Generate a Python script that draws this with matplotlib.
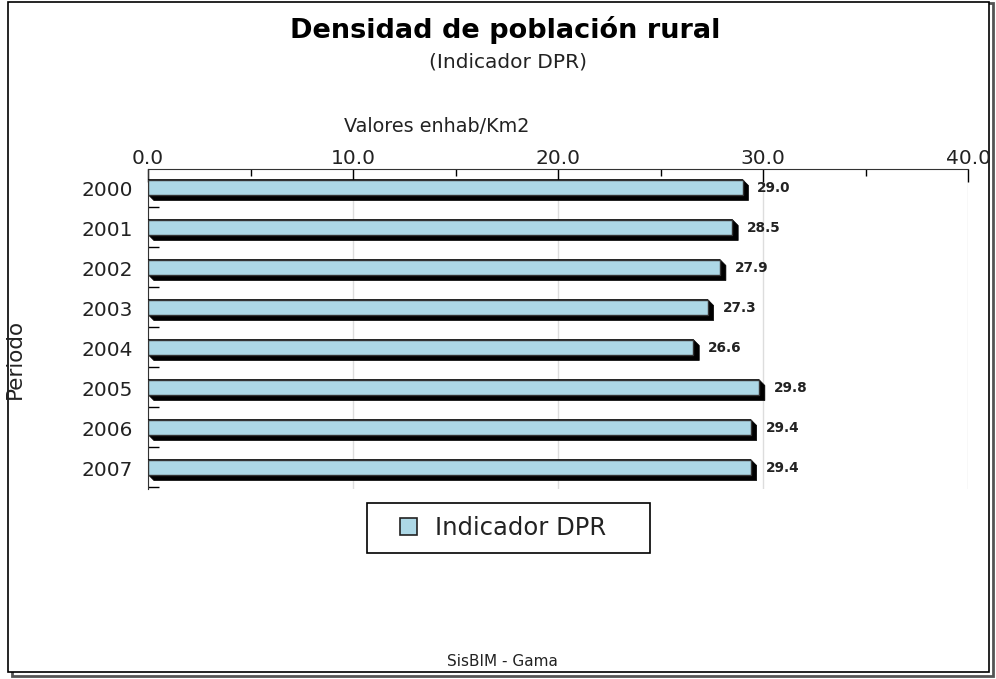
import matplotlib
matplotlib.use("Agg")
import matplotlib.pyplot as plt
from matplotlib.patches import Polygon, Rectangle, Patch
from matplotlib.ticker import MultipleLocator, FixedLocator

# ---------- data ----------
years = ["2000", "2001", "2002", "2003", "2004", "2005", "2006", "2007"]
values = [29.0, 28.5, 27.9, 27.3, 26.6, 29.8, 29.4, 29.4]
series_name = "Indicador DPR"

BAR_COLOR = "#add8e6"
TEXT = "#222222"

W, H = 996, 679
fig = plt.figure(figsize=(W / 100, H / 100), dpi=100)
plt.rcParams["font.family"] = ["DejaVu Sans"]


def fx(px):
    return px / W


def fy(py):
    return 1 - py / H


# outer frame with shadow (behind everything)
fig.add_artist(Rectangle((fx(12), fy(676)), fx(981), 673 / H, transform=fig.transFigure,
                         facecolor="none", edgecolor="#555555", lw=2, zorder=-2))
fig.add_artist(Rectangle((fx(8), fy(672)), fx(981), 670 / H, transform=fig.transFigure,
                         facecolor="white", edgecolor="black", lw=1.2, zorder=-1))

# plot area (pixels from the reference)
left, right, top, bottom = 148, 968, 169, 489
ax = fig.add_axes([fx(left), fy(bottom), fx(right - left), (bottom - top) / H])
ax.patch.set_alpha(0)

ax.set_xlim(0, 40)
ax.set_ylim(len(years) - 0.5, -0.5)

# shadow offsets (data units)
dx, dy = 0.29, 0.15
bh = 0.375
for i, v in enumerate(values):
    y0 = i - 0.05 - bh / 2
    y1 = y0 + bh
    shadow = Polygon(
        [(0, y0), (v, y0), (v + dx, y0 + dy), (v + dx, y1 + dy), (dx, y1 + dy), (0, y1)],
        closed=True, facecolor="black", edgecolor="black", lw=0.5, zorder=3)
    ax.add_patch(shadow)
    ax.add_patch(Rectangle((0, y0), v, bh, facecolor=BAR_COLOR,
                           edgecolor="#333333", lw=1.0, zorder=4))
    ax.text(v + 0.72, y0 + bh / 2 + 0.02, f"{v:.1f}", va="center", ha="left",
            fontsize=9.8, fontweight="bold", color=TEXT, zorder=5)

# grid + axes
ax.xaxis.set_major_locator(MultipleLocator(10))
ax.xaxis.set_minor_locator(MultipleLocator(5))
ax.grid(axis="x", which="major", color="#dddddd", lw=1, zorder=0)
ax.set_axisbelow(True)
ax.xaxis.tick_top()
ax.tick_params(axis="x", which="major", direction="in", length=9, width=1,
               labelsize=14.5, labelcolor=TEXT, pad=1)
ax.tick_params(axis="x", which="minor", direction="in", length=5, width=1)
ax.set_xticks(range(0, 41, 10))
ax.set_xticklabels([f"{t:.1f}" for t in range(0, 41, 10)])

ax.set_yticks(range(len(years)))
ax.set_yticklabels(years)
ax.yaxis.set_minor_locator(FixedLocator([i + 0.45 for i in range(len(years))]))
ax.tick_params(axis="y", which="major", length=0, labelsize=14.5,
               labelcolor=TEXT, pad=11)
ax.tick_params(axis="y", which="minor", direction="in", length=8, width=1)

for s in ("right", "bottom"):
    ax.spines[s].set_visible(False)
ax.spines["top"].set_color("#333333")
ax.spines["left"].set_color("#333333")

# texts
fig.text(fx(505), fy(30), "Densidad de población rural", ha="center", va="center",
         fontsize=19.5, fontweight="bold", color="black")
fig.text(fx(508), fy(62), "(Indicador DPR)", ha="center", va="center",
         fontsize=14.5, color=TEXT)
fig.text(fx(437), fy(127), "Valores enhab/Km2", ha="center", va="center",
         fontsize=13.8, color=TEXT)
fig.text(fx(15), fy(359), "Periodo", ha="center", va="center", rotation=90,
         fontsize=15.5, color=TEXT)
fig.text(fx(502), fy(662), "SisBIM - Gama", ha="center", va="center",
         fontsize=11, color=TEXT)

# legend: handle + label, frame drawn as its own box
leg = fig.legend(handles=[Patch(facecolor=BAR_COLOR, edgecolor="#222222", lw=1.2)],
                 labels=[series_name], loc="center",
                 bbox_to_anchor=(fx(503), fy(528)), fontsize=17.5, frameon=False,
                 handlelength=0.7, handleheight=0.7, handletextpad=0.75,
                 borderpad=0.3, borderaxespad=0)
for t in leg.get_texts():
    t.set_color(TEXT)
fig.add_artist(Rectangle((fx(367), fy(553)), fx(283), 50 / H, transform=fig.transFigure,
                         facecolor="none", edgecolor="black", lw=1.2))

fig.savefig("out.png", dpi=100)
